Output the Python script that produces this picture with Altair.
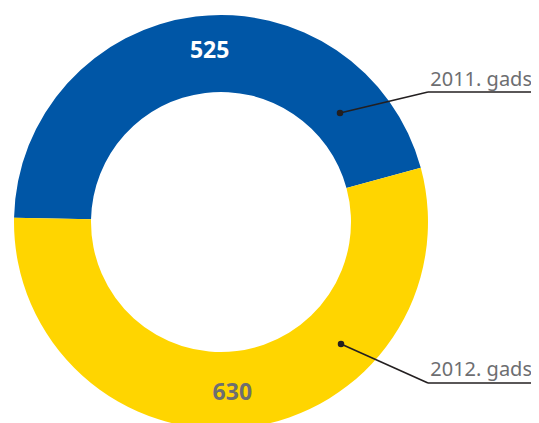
import math
import altair as alt
import pandas as pd

# ---- data ----
years = ["2011. gads", "2012. gads"]
values = [525, 630]
slice_colors = ["#0056A6", "#FFD500"]

# ---- layout (pixels, chart coordinates) ----
W, H = 523, 415
CX, CY = 213, 214
R_OUT, R_IN = 207, 130
START = math.radians(271.2)
LABEL_R = 171.5
LABEL_OFFSET = math.radians(3.2)

dot_x = [332, 333]
dot_y = [105, 336]
elbow_x = [420, 420]
elbow_y = [84, 375]
line_end_x = [523, 523]
text_x = [524, 524]
text_y = [78, 368]

df = pd.DataFrame({"year": years, "value": values, "order": [0, 1]})

theta = alt.Theta("value:Q", stack=True,
                  scale=alt.Scale(range=[START, START + 2 * math.pi]))

base = alt.Chart(df).encode(theta=theta, order=alt.Order("order:Q"))

arcs = base.mark_arc(radius=R_OUT, radius2=R_IN, stroke=None).encode(
    x=alt.value(CX), y=alt.value(CY),
    color=alt.Color("year:N", scale=alt.Scale(domain=years, range=slice_colors), legend=None),
)

vals = base.mark_text(radius=LABEL_R, thetaOffset=LABEL_OFFSET, font="Noto Sans",
                      fontSize=23, fontWeight="bold", baseline="middle", align="center").encode(
    x=alt.value(CX), y=alt.value(CY),
    text=alt.Text("value:Q"),
    color=alt.condition(alt.datum.order == 0, alt.value("#FFFFFF"), alt.value("#6D6E71")),
)

co = pd.DataFrame({
    "year": years, "dx": dot_x, "dy": dot_y, "ex": elbow_x, "ey": elbow_y,
    "lx": line_end_x, "tx": text_x, "ty": text_y,
})
xs = alt.Scale(domain=[0, W], range=[0, W])
ys = alt.Scale(domain=[0, H], range=[0, H])
cbase = alt.Chart(co)

diag = cbase.mark_rule(color="#231F20", strokeWidth=1.6).encode(
    x=alt.X("dx:Q", scale=xs, axis=None), y=alt.Y("dy:Q", scale=ys, axis=None),
    x2="ex:Q", y2="ey:Q",
)
horiz = cbase.mark_rule(color="#231F20", strokeWidth=1.6).encode(
    x=alt.X("ex:Q", scale=xs, axis=None), y=alt.Y("ey:Q", scale=ys, axis=None),
    x2="lx:Q",
)
dots = cbase.mark_circle(color="#231F20", size=42, opacity=1).encode(
    x=alt.X("dx:Q", scale=xs, axis=None), y=alt.Y("dy:Q", scale=ys, axis=None),
)
names = cbase.mark_text(font="Noto Sans", fontSize=20, color="#6D6E71",
                        align="right", baseline="alphabetic").encode(
    x=alt.X("tx:Q", scale=xs, axis=None), y=alt.Y("ty:Q", scale=ys, axis=None),
    text="year:N",
)

chart = alt.layer(arcs, vals, diag, horiz, dots, names).properties(
    width=W, height=H, padding=0, autosize=alt.AutoSizeParams(type="none"),
    background="white",
).configure_view(stroke=None)

chart.save("out.html", embed_options={"renderer": "svg", "actions": False})
